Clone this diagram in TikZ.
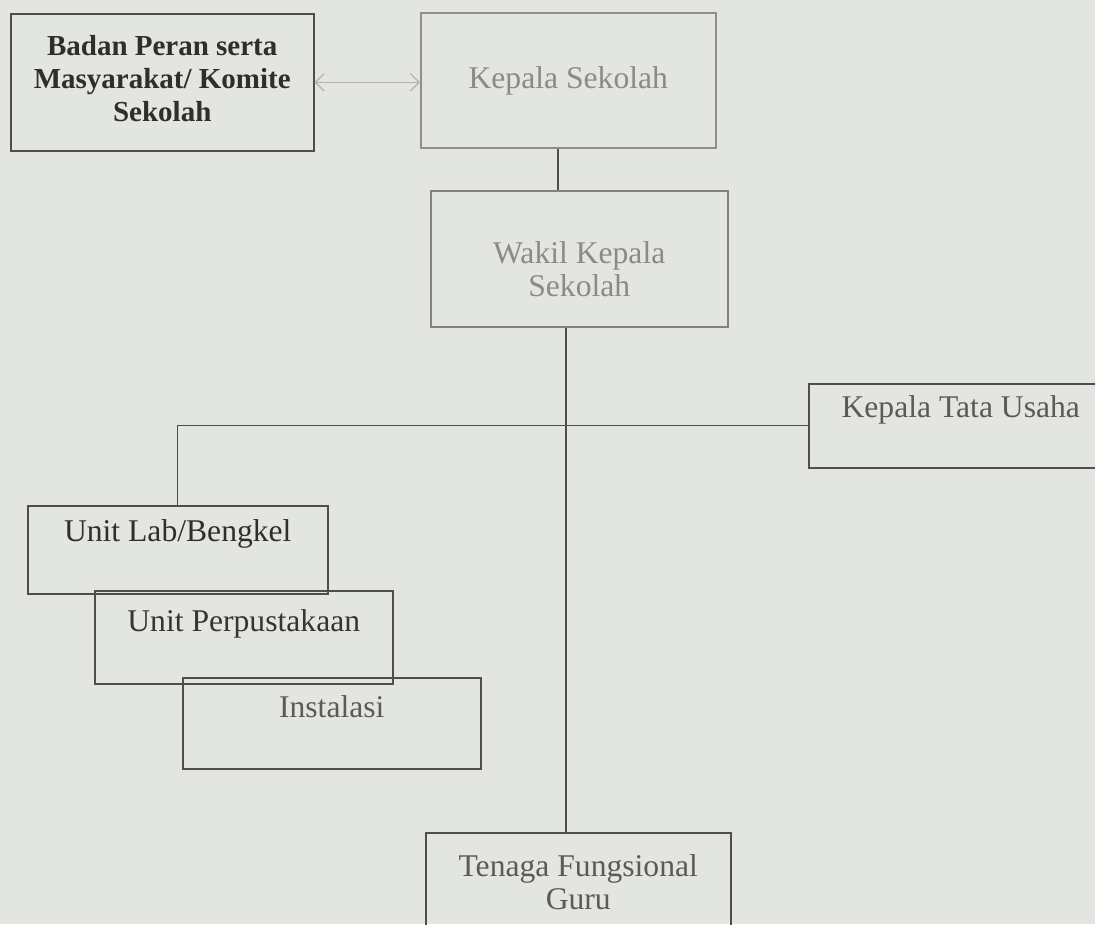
\documentclass[tikz,border=0pt]{standalone}
\usepackage{fontspec}
\setmainfont{Liberation Serif}
\usetikzlibrary{arrows.meta}
\definecolor{kertas}{HTML}{E3E5E1}
\definecolor{garis}{HTML}{4E4E4E}
\definecolor{garismuda}{HTML}{8E8E8E}
\definecolor{teksgelap}{HTML}{2E2E2E}
\definecolor{teksmuda}{HTML}{8A8A8A}
\definecolor{tekssedang}{HTML}{5A5A5A}
\begin{document}
\begin{tikzpicture}[x=0.02cm,y=-0.02cm,
    kotak/.style={draw=garis, line width=0.9pt, inner sep=0pt, anchor=north west, align=center,
        text=tekssedang, font=\fontsize{18}{19}\selectfont},
    hubung/.style={draw=garis, line width=0.8pt}]
    \fill[kertas] (0,0) rectangle (1095,924);
    \useasboundingbox (0,0) rectangle (1095,924);
    \node[kotak, text=teksgelap, minimum width=6.06cm, text height=2.16cm, text depth=0.58cm,
        font=\fontsize{16.5}{19}\selectfont\bfseries] (komite) at (10,13) {Badan Peran serta\\Masyarakat/ Komite\\Sekolah};
    \node[kotak, draw=garismuda, text=teksmuda, minimum width=5.9cm, text height=1.52cm, text depth=1.18cm] (kepsek) at (420,12) {Kepala Sekolah};
    \node[kotak, draw=garismuda!80!garis, text=teksmuda, minimum width=5.94cm, text height=2.12cm, text depth=0.6cm] (wakil) at (430,190) {Wakil Kepala\\Sekolah};
    \node[kotak, minimum width=6.08cm, text height=0.68cm, text depth=1.0cm] (tatausaha) at (808,383) {Kepala Tata Usaha};
    \node[kotak, text=teksgelap, minimum width=6.0cm, text height=0.72cm, text depth=1.04cm] (lab) at (27,505) {Unit Lab/Bengkel};
    \node[kotak, text=teksgelap!85!tekssedang, minimum width=5.96cm, text height=0.82cm, text depth=1.04cm] (pustaka) at (94,590) {Unit Perpustakaan};
    \node[kotak, minimum width=5.96cm, text height=0.8cm, text depth=1.02cm] (instalasi) at (182,677) {Instalasi};
    \node[kotak, minimum width=6.1cm, text height=1.54cm, text depth=0.62cm] (guru) at (425,832) {Tenaga Fungsional\\Guru};
    \coordinate (poros) at (558,0);
    \coordinate (batang) at (566,0);
    \draw[<->, >={Straight Barb[length=5pt,width=10pt]}, draw=black!30, line width=0.7pt] (komite.east) -- (kepsek.west |- komite.east);
    \draw[hubung] (kepsek.south -| poros) -- (wakil.north -| poros);
    \draw[hubung] (wakil.south -| batang) -- (guru.north -| batang);
    \draw[hubung] (tatausaha.west) -| (lab.north);
\end{tikzpicture}
\end{document}
